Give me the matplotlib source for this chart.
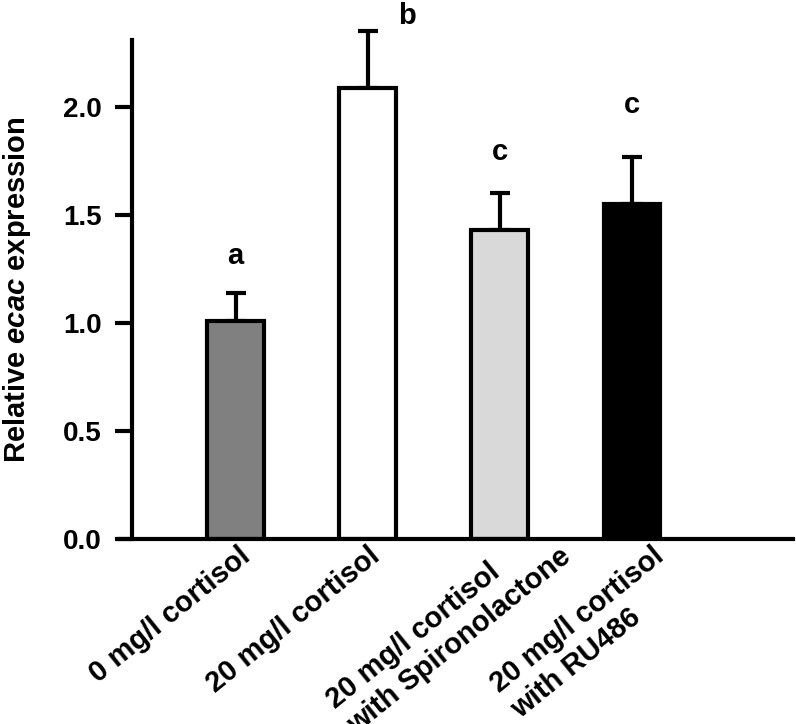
import numpy as np
import matplotlib
matplotlib.use("Agg")
import matplotlib.pyplot as plt
from matplotlib.transforms import ScaledTranslation

plt.rcParams["font.family"] = ["Liberation Sans", "DejaVu Sans"]
plt.rcParams["font.weight"] = "bold"
plt.rcParams["mathtext.fontset"] = "custom"
plt.rcParams["mathtext.it"] = "Liberation Sans:italic:bold"
plt.rcParams["mathtext.rm"] = "Liberation Sans:bold"

# data
groups = ["0 mg/l cortisol", "20 mg/l cortisol",
          "20 mg/l cortisol\nwith Spironolactone", "20 mg/l cortisol\nwith RU486"]
means = [1.01, 2.09, 1.43, 1.55]
sems = [0.13, 0.26, 0.17, 0.22]
letters = ["a", "b", "c", "c"]
letter_y = [1.31, 2.42, 1.79, 2.01]
colors = ["#808080", "#ffffff", "#d9d9d9", "#000000"]

fig = plt.figure(figsize=(7.96, 7.24), dpi=100)
ax = fig.add_axes([0.1495, 0.2555, 0.8467, 0.6892])

x = np.arange(len(groups))
ax.bar(x, means, width=0.43, color=colors, edgecolor="black", linewidth=3, zorder=2)
ax.errorbar(x, means, yerr=[np.zeros(len(sems)), sems], fmt="none", ecolor="black",
            elinewidth=3, capsize=7, capthick=3, zorder=1, clip_on=False)

# significance letters (b sits off to the right in the original)
dx = [0, 0.3, 0, 0]
for xi, ly, lt, d in zip(x, letter_y, letters, dx):
    ax.text(xi + d, ly, lt, ha="center", va="center", fontsize=21, fontweight="bold",
            clip_on=False)

ax.set_xlim(-0.882, 4.218)
ax.set_ylim(0, 2.31)
ax.set_yticks([0.0, 0.5, 1.0, 1.5, 2.0])
ax.set_yticklabels(["0.0", "0.5", "1.0", "1.5", "2.0"])

for s in ["top", "right"]:
    ax.spines[s].set_visible(False)
ax.spines["left"].set_position(("axes", 13 / 674))
ax.spines["left"].set_linewidth(3)
ax.spines["bottom"].set_linewidth(3)
ax.spines["left"].set_zorder(3)

ax.tick_params(axis="y", length=12, width=3, labelsize=20, pad=10)
ax.tick_params(axis="x", length=0, labelsize=21, pad=2)

ax.set_xticks(x)
ax.set_xticklabels(groups, rotation=39, ha="right", rotation_mode="anchor",
                   multialignment="left")
# label nudges in inches (x, y)
shift = [(0.02, 0.0), (0.0, 0.0), (0.38, 0.25), (0.2, 0.0)]
for lab, (sx, sy) in zip(ax.get_xticklabels(), shift):
    lab.set_transform(lab.get_transform() + ScaledTranslation(sx, sy, fig.dpi_scale_trans))

ax.set_ylabel("Relative $\\it{ecac}$ expression", fontsize=21, fontweight="bold")
ax.yaxis.set_label_coords(-0.127, 0.5)

fig.savefig("out.png", dpi=100)
